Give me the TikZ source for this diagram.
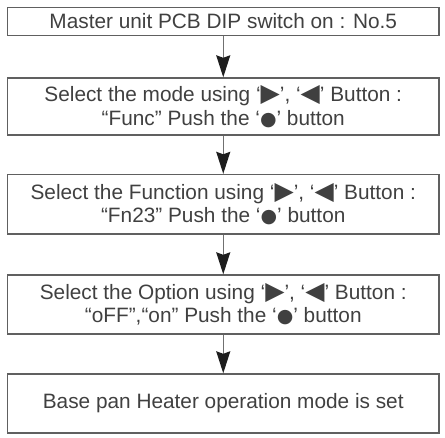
\documentclass[tikz,border=0pt]{standalone}
\usepackage{fontspec}
\setmainfont{Liberation Sans}
\newfontfamily\symfont{DejaVu Sans}
\usetikzlibrary{arrows.meta}
\definecolor{boxgray}{HTML}{606060}
\definecolor{txtgray}{HTML}{404040}
\definecolor{arrgray}{HTML}{707070}
\definecolor{tipgray}{HTML}{1E1E1E}
\newcommand{\sym}[1]{{\symfont\fontsize{25}{21}\selectfont #1}}
\newcommand{\btndot}{{\symfont\fontsize{19}{19}\selectfont ●}}
\begin{document}
\begin{tikzpicture}[x=1pt,y=1pt,
  box/.style={draw=boxgray,line width=1.4pt,minimum width=431.5pt,inner sep=0pt,
    align=center,text=txtgray,font=\fontsize{20.8}{23.5}\selectfont},
  flow/.style={draw=arrgray,line width=1.3pt,
    -{Stealth[length=22pt,width=14pt,inset=2.5pt,color=tipgray]}}]
\useasboundingbox (0,0) rectangle (445,-437);
\node[box,minimum height=28pt] (b1) at (223.25,-21.5)
  {Master unit PCB DIP switch on : No.5};
\node[box,minimum height=57pt] (b2) at (223.25,-106.5)
  {Select the mode using ‘\sym{▶}’, ‘\sym{◀}’ Button :\\“Func” Push the ‘\btndot’ button};
\node[box,minimum height=59.5pt] (b3) at (223.25,-204.25)
  {Select the Function using ‘\sym{▶}’, ‘\sym{◀}’ Button :\\“Fn23” Push the ‘\btndot’ button};
\node[box,minimum height=59pt] (b4) at (223.25,-304.5)
  {Select the Option using ‘\sym{▶}’, ‘\sym{◀}’ Button :\\“oFF”,“on” Push the ‘\btndot’ button};
\node[box,minimum height=59pt] (b5) at (223.25,-403.5)
  {Base pan Heater operation mode is set};
\draw[flow] (b1.south) -- (b2.north);
\draw[flow] (b2.south) -- (b3.north);
\draw[flow] (b3.south) -- (b4.north);
\draw[flow] (b4.south) -- (b5.north);
\end{tikzpicture}
\end{document}
